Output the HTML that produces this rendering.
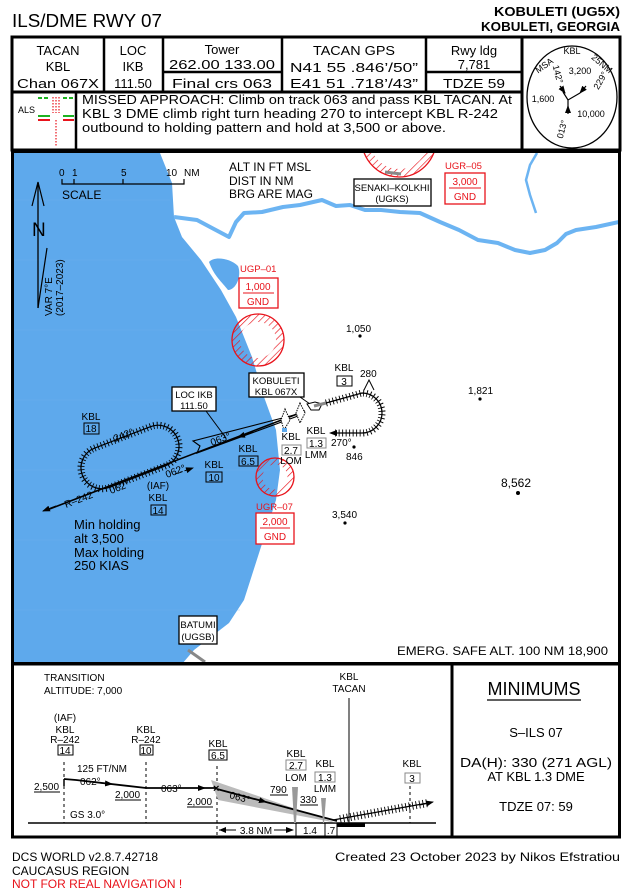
<!DOCTYPE html>
<html><head><meta charset="utf-8">
<style>
html,body{margin:0;padding:0;background:#fff;}
svg{display:block;}
text{font-family:"Liberation Sans",sans-serif;fill:#000;}
.r{fill:#e8131b;}
</style></head><body>
<svg width="628" height="891" viewBox="0 0 628 891" xmlns="http://www.w3.org/2000/svg">
<defs>
<pattern id="hatch" width="5" height="5" patternUnits="userSpaceOnUse" patternTransform="rotate(45)">
<line x1="0" y1="0" x2="0" y2="5" stroke="#e8131b" stroke-width="1.3"/>
</pattern>
<clipPath id="mapclip"><rect x="14" y="153" width="605" height="510"/></clipPath>
<marker id="ah" markerWidth="8" markerHeight="6" refX="7" refY="3" orient="auto" markerUnits="userSpaceOnUse"><path d="M0,0 L8,3 L0,6 z" fill="#000"/></marker>
</defs>

<text x="12" y="27" font-size="18" textLength="150" lengthAdjust="spacingAndGlyphs">ILS/DME RWY 07</text>
<text x="620" y="16" font-size="13" font-weight="bold" text-anchor="end" textLength="126" lengthAdjust="spacingAndGlyphs">KOBULETI (UG5X)</text>
<text x="620" y="31" font-size="13" font-weight="bold" text-anchor="end" textLength="139" lengthAdjust="spacingAndGlyphs">KOBULETI, GEORGIA</text>

<rect x="12" y="37" width="608" height="113" fill="none" stroke="#000" stroke-width="3"/>
<line x1="12" y1="92" x2="522" y2="92" stroke="#000" stroke-width="3"/>
<line x1="522" y1="37" x2="522" y2="150" stroke="#000" stroke-width="3"/>
<g stroke="#000" stroke-width="2.5">
<line x1="104" y1="37" x2="104" y2="92"/>
<line x1="163" y1="37" x2="163" y2="92"/>
<line x1="282" y1="37" x2="282" y2="92"/>
<line x1="426" y1="37" x2="426" y2="92"/>
<line x1="163" y1="72" x2="282" y2="72"/>
<line x1="426" y1="72" x2="522" y2="72"/>
<line x1="76" y1="92" x2="76" y2="150"/>
</g>
<g font-size="13" text-anchor="middle">
<text x="58" y="55">TACAN</text><text x="58" y="71">KBL</text><text x="58" y="88" textLength="82" lengthAdjust="spacingAndGlyphs">Chan 067X</text>
<text x="133" y="55">LOC</text><text x="133" y="71">IKB</text><text x="133" y="88">111.50</text>
<text x="222" y="54">Tower</text><text x="222" y="69" textLength="106" lengthAdjust="spacingAndGlyphs">262.00 133.00</text><text x="222" y="88" textLength="100" lengthAdjust="spacingAndGlyphs">Final crs 063</text>
<text x="354" y="55" textLength="82" lengthAdjust="spacingAndGlyphs">TACAN GPS</text>
<text x="354" y="72" textLength="128" lengthAdjust="spacingAndGlyphs">N41 55 .846’/50”</text>
<text x="354" y="88" textLength="128" lengthAdjust="spacingAndGlyphs">E41 51 .718’/43”</text>
<text x="474" y="55">Rwy ldg</text><text x="474" y="69">7,781</text><text x="474" y="88" textLength="62" lengthAdjust="spacingAndGlyphs">TDZE 59</text>
</g>
<g font-size="12.5">
<text x="82" y="104" textLength="430" lengthAdjust="spacingAndGlyphs">MISSED APPROACH: Climb on track 063 and pass KBL TACAN. At</text>
<text x="82" y="118" textLength="416" lengthAdjust="spacingAndGlyphs">KBL 3 DME climb right turn heading 270 to intercept KBL R-242</text>
<text x="82" y="132" textLength="364" lengthAdjust="spacingAndGlyphs">outbound to holding pattern and hold at 3,500 or above.</text>
</g>
<text x="18" y="113" font-size="9">ALS</text>
<g stroke-width="2">
<line x1="38" y1="98" x2="50" y2="98" stroke="#1db321" stroke-dasharray="4 2"/>
<line x1="63" y1="98" x2="74" y2="98" stroke="#1db321" stroke-dasharray="4 2"/>
<line x1="38" y1="116" x2="50" y2="116" stroke="#1db321"/>
<line x1="63" y1="116" x2="74" y2="116" stroke="#1db321"/>
<line x1="38" y1="120" x2="50" y2="120" stroke="#e8131b"/>
<line x1="63" y1="120" x2="74" y2="120" stroke="#e8131b"/>
</g>
<g stroke="#e8131b" stroke-width="1.2" stroke-dasharray="1.5 1.5">
<line x1="53" y1="97" x2="53" y2="113"/><line x1="59" y1="97" x2="59" y2="113"/>
<line x1="56" y1="97" x2="56" y2="113"/>
<line x1="56" y1="120" x2="56" y2="146"/>
</g>
<ellipse cx="572" cy="97" rx="45" ry="51" fill="none" stroke="#000" stroke-width="1.3"/>
<g font-size="9">
<text x="572" y="54" text-anchor="middle">KBL</text>
<text x="546" y="68" transform="rotate(-35 546 68)" text-anchor="middle">MSA</text>
<text x="600" y="66" transform="rotate(40 600 66)" text-anchor="middle">25NM</text>
<text x="580" y="74" text-anchor="middle">3,200</text>
<text x="555" y="75" transform="rotate(75 555 75)" text-anchor="middle">142°</text>
<text x="603" y="82" transform="rotate(-60 603 82)" text-anchor="middle">229°</text>
<text x="543" y="102" text-anchor="middle">1,600</text>
<text x="591" y="117" text-anchor="middle">10,000</text>
<text x="565" y="130" transform="rotate(-75 565 130)" text-anchor="middle">013°</text>
</g>
<g stroke="#000" stroke-width="1.2" fill="none">
<path d="M563,92 L568,100 L580,93 M568,100 L568,107"/>
<line x1="560" y1="86" x2="565" y2="93" marker-end="url(#ah)"/>
<line x1="586" y1="86" x2="580" y2="93" marker-end="url(#ah)"/>
<line x1="568" y1="114" x2="568" y2="106" marker-end="url(#ah)"/>
</g>

<g clip-path="url(#mapclip)">
<rect x="14" y="153" width="605" height="510" fill="#fff"/>
<path d="M14,153 L160,153 L172,183 L174,217 L182,237 L201,260 L221,290 L236,317 L252,357 L264,397 L276,430 L280,470 L276,500 L260,550 L244,600 L229,623 L194,650 L182,664 L14,664 Z" fill="#5ea9ec"/>
<g stroke="#73b6f2" stroke-width="0.6" opacity="0.6">
<line x1="14" y1="200" x2="170" y2="200"/><line x1="14" y1="260" x2="190" y2="260"/><line x1="14" y1="330" x2="230" y2="330"/><line x1="14" y1="400" x2="260" y2="400"/><line x1="14" y1="470" x2="270" y2="470"/><line x1="14" y1="540" x2="260" y2="540"/><line x1="14" y1="610" x2="240" y2="610"/>
</g>
<path d="M209,262 C214,256 230,258 238,266 C242,276 236,290 228,290 C222,282 214,276 209,262 Z" fill="#5ea9ec"/>
<path d="M174,217 L197,220 L212,228 L229,237 L236,222 L244,213 L262,212 L283,207 L300,205 L322,200 L336,206 L350,205 L365,210 L381,210 L400,212 L420,213 L440,222 L459,230 L478,240 L498,243 L515,250 L530,253 L545,250 L557,243 L566,234 L576,230 L596,227 L619,222" fill="none" stroke="#6cb4f2" stroke-width="4" stroke-linejoin="round"/>
<path d="M537,153 L530,165 L526,180 L530,195 L536,213" fill="none" stroke="#6cb4f2" stroke-width="2.5"/>
<circle cx="258" cy="340" r="22" fill="none" stroke="url(#hatch)" stroke-width="8"/>
<circle cx="258" cy="340" r="26" fill="none" stroke="#e8131b" stroke-width="1.3"/>
<circle cx="275" cy="477" r="16" fill="none" stroke="url(#hatch)" stroke-width="7"/>
<circle cx="275" cy="477" r="19" fill="none" stroke="#e8131b" stroke-width="1.3"/>
<circle cx="399" cy="140" r="33" fill="none" stroke="url(#hatch)" stroke-width="8"/>
<circle cx="399" cy="140" r="37" fill="none" stroke="#e8131b" stroke-width="1.3"/>
<line x1="385" y1="172" x2="401" y2="174" stroke="#888" stroke-width="3"/>
<line x1="188" y1="650" x2="205" y2="662" stroke="#888" stroke-width="3"/>
</g>
<rect x="12.5" y="151.5" width="607" height="512" fill="none" stroke="#000" stroke-width="3"/>

<g font-size="10">
<text x="59" y="176">0</text><text x="72" y="176">1</text><text x="121" y="176">5</text><text x="166" y="176">10</text><text x="184" y="176">NM</text>
</g>
<path d="M62,179 L62,184 L184,184 L184,179 M74,179 L74,184 M123,179 L123,184" fill="none" stroke="#000" stroke-width="1.2"/>
<text x="62" y="199" font-size="12">SCALE</text>
<line x1="38" y1="308" x2="38" y2="185" stroke="#000" stroke-width="1.3"/>
<path d="M32,206 L38,182 L44,206" fill="none" stroke="#000" stroke-width="1.2"/>
<text x="32" y="236" font-size="19">N</text>
<line x1="38" y1="308" x2="47" y2="248" stroke="#000" stroke-width="1.2"/>
<g font-size="10">
<text x="52" y="316" transform="rotate(-90 52 316)">VAR 7°E</text>
<text x="63" y="316" transform="rotate(-90 63 316)">(2017–2023)</text>
</g>
<g font-size="12">
<text x="229" y="171">ALT IN FT MSL</text>
<text x="229" y="185">DIST IN NM</text>
<text x="229" y="198">BRG ARE MAG</text>
</g>
<rect x="354" y="179" width="77" height="27" fill="#fff" stroke="#000" stroke-width="1.3"/>
<text x="392" y="191" font-size="9.5" text-anchor="middle">SENAKI–KOLKHI</text>
<text x="392" y="202" font-size="9.5" text-anchor="middle">(UGKS)</text>
<text x="445" y="169" font-size="9.5" class="r">UGR–05</text>
<rect x="445" y="173" width="40" height="31" fill="#fff" stroke="#e8131b" stroke-width="1.3"/>
<text x="465" y="185" font-size="10" class="r" text-anchor="middle">3,000</text>
<line x1="449" y1="188" x2="481" y2="188" stroke="#e8131b"/>
<text x="465" y="200" font-size="10" class="r" text-anchor="middle">GND</text>
<text x="240" y="272" font-size="9.5" class="r">UGP–01</text>
<rect x="239" y="278" width="39" height="30" fill="#fff" stroke="#e8131b" stroke-width="1.3"/>
<text x="258" y="290" font-size="10" class="r" text-anchor="middle">1,000</text>
<line x1="243" y1="293" x2="274" y2="293" stroke="#e8131b"/>
<text x="258" y="305" font-size="10" class="r" text-anchor="middle">GND</text>
<text x="256" y="510" font-size="9.5" class="r">UGR–07</text>
<rect x="256" y="513" width="38" height="31" fill="#fff" stroke="#e8131b" stroke-width="1.3"/>
<text x="275" y="525" font-size="10" class="r" text-anchor="middle">2,000</text>
<line x1="260" y1="528" x2="290" y2="528" stroke="#e8131b"/>
<text x="275" y="540" font-size="10" class="r" text-anchor="middle">GND</text>
<g font-size="10">
<text x="346" y="332">1,050</text><circle cx="360" cy="336" r="1.6"/>
<text x="468" y="394">1,821</text><circle cx="480" cy="399" r="1.6"/>
<text x="501" y="487" font-size="12">8,562</text><circle cx="518" cy="493" r="2"/>
<text x="332" y="518">3,540</text><circle cx="345" cy="523" r="1.6"/>
<text x="346" y="460">846</text><circle cx="354" cy="447" r="1.6"/>
</g>
<rect x="249" y="373" width="55" height="24" fill="#fff" stroke="#000" stroke-width="1.3"/>
<text x="276" y="384" font-size="9.5" text-anchor="middle">KOBULETI</text>
<text x="276" y="395" font-size="9.5" text-anchor="middle">KBL 067X</text>
<line x1="300" y1="397" x2="310" y2="404" stroke="#000" stroke-width="1"/>
<rect x="172" y="387" width="44" height="24" fill="#fff" stroke="#000" stroke-width="1.3"/>
<text x="194" y="398" font-size="9.5" text-anchor="middle">LOC IKB</text>
<text x="194" y="409" font-size="9.5" text-anchor="middle">111.50</text>
<line x1="206" y1="411" x2="226" y2="438" stroke="#000" stroke-width="1"/>
<path d="M298,414 L193,441 L200,446 L197,453 L298,416" fill="none" stroke="#000" stroke-width="1.1"/>
<line x1="47" y1="510" x2="305" y2="411" stroke="#000" stroke-width="1.6"/>
<line x1="56" y1="506" x2="43" y2="511" stroke="#000" stroke-width="1.2" marker-end="url(#ah)"/>
<line x1="253" y1="432" x2="238" y2="437" stroke="#000" stroke-width="1.2" marker-end="url(#ah)"/>
<text x="212" y="446" font-size="10" transform="rotate(-21 212 446)">063°</text>
<line x1="175" y1="474" x2="193" y2="468" stroke="#000" stroke-width="1" stroke-dasharray="3 2" marker-end="url(#ah)"/>
<text x="167" y="478" font-size="10" transform="rotate(-21 167 478)">062°</text>
<g fill="#fff" stroke="#000" stroke-width="1">
<path d="M285,409 L290,420 L284,430 L281,420 Z" stroke-dasharray="1.5 1"/>
<path d="M300,403 L305,413 L300,423 L296,413 Z" stroke-dasharray="1.5 1"/>
</g>
<rect x="282" y="428" width="5" height="4" fill="#5ea9ec"/>
<path d="M307,404 L315,402 L322,404 L319,410 L311,410 Z" fill="#fff" stroke="#000" stroke-width="1"/>
<line x1="314" y1="406" x2="326" y2="403" stroke="#888" stroke-width="3"/>
<g transform="translate(130,457) rotate(-21)" fill="none" stroke="#000">
<path d="M-30,-21 L30,-21 A21,21 0 0 1 30,21 L-30,21 A21,21 0 0 1 -30,-21" stroke-width="1.2"/>
<path d="M-30,-21 L30,-21 A21,21 0 0 1 30,21 L-30,21 A21,21 0 0 1 -30,-21" stroke-width="7" stroke-dasharray="0.9 2.6"/>
</g>
<text x="115" y="442" font-size="10" transform="rotate(-21 115 442)">242°</text>
<text x="111" y="494" font-size="10" transform="rotate(-21 111 494)">062°</text>
<text x="66" y="508" font-size="10" transform="rotate(-21 66 508)">R–242</text>
<g fill="none" stroke="#000">
<path d="M326,403 L362,393 A20,20 0 0 1 362,433 L334,433" stroke-width="1.2"/>
<path d="M326,403 L362,393 A20,20 0 0 1 362,433 L334,433" stroke-width="7" stroke-dasharray="0.9 2.6"/>
</g>
<line x1="340" y1="433" x2="330" y2="433" stroke="#000" marker-end="url(#ah)"/>
<path d="M364,390 L369,380 L374,390" fill="none" stroke="#000" stroke-width="1"/>
<text x="360" y="377" font-size="10">280</text>
<text x="331" y="446" font-size="10">270°</text>
<g font-size="10" text-anchor="middle">
<text x="91" y="420">KBL</text><rect x="84" y="423" width="15" height="11" fill="none" stroke="#000"/><text x="91" y="432">18</text>
<text x="344" y="371">KBL</text><rect x="337" y="376" width="15" height="10" fill="none" stroke="#000"/><text x="344" y="385">3</text>
<text x="248" y="452">KBL</text><rect x="239" y="456" width="19" height="10" fill="none" stroke="#000"/><text x="248" y="465">6.5</text>
<text x="214" y="468">KBL</text><rect x="206" y="472" width="16" height="10" fill="none" stroke="#000"/><text x="214" y="481">10</text>
<text x="158" y="489">(IAF)</text><text x="158" y="501">KBL</text><rect x="151" y="505" width="15" height="10" fill="none" stroke="#000"/><text x="158" y="514">14</text>
<text x="291" y="440">KBL</text><rect x="282" y="445" width="19" height="10" fill="none" stroke="#888"/><text x="291" y="454">2.7</text><text x="291" y="464">LOM</text>
<text x="316" y="434">KBL</text><rect x="307" y="438" width="19" height="10" fill="none" stroke="#888"/><text x="316" y="447">1.3</text><text x="316" y="458">LMM</text>
</g>
<g font-size="13">
<text x="74" y="529">Min holding</text>
<text x="74" y="543">alt 3,500</text>
<text x="74" y="557">Max holding</text>
<text x="74" y="570">250 KIAS</text>
</g>
<rect x="179" y="616" width="38" height="28" fill="#fff" stroke="#000" stroke-width="1.3"/>
<text x="198" y="628" font-size="9.5" text-anchor="middle">BATUMI</text>
<text x="198" y="640" font-size="9.5" text-anchor="middle">(UGSB)</text>
<text x="608" y="655" font-size="12" text-anchor="end" textLength="211" lengthAdjust="spacingAndGlyphs">EMERG. SAFE ALT. 100 NM 18,900</text>

<rect x="12.5" y="664" width="607" height="173" fill="none" stroke="#000" stroke-width="3"/>
<line x1="452" y1="664" x2="452" y2="837" stroke="#000" stroke-width="3"/>
<g font-size="10">
<text x="44" y="681">TRANSITION</text>
<text x="44" y="694">ALTITUDE: 7,000</text>
</g>
<line x1="28" y1="823" x2="436" y2="823" stroke="#000" stroke-width="1.5"/>
<g stroke="#000" stroke-width="1" stroke-dasharray="3 3">
<line x1="64" y1="762" x2="64" y2="823"/><line x1="146" y1="762" x2="146" y2="823"/>
<line x1="217" y1="766" x2="217" y2="837"/><line x1="410" y1="786" x2="410" y2="823"/>
</g>
<line x1="349" y1="698" x2="349" y2="823" stroke="#000" stroke-width="1"/>
<g font-size="10" text-anchor="middle">
<text x="65" y="721">(IAF)</text><text x="65" y="733">KBL</text><text x="65" y="743">R–242</text>
<rect x="58" y="745" width="15" height="10" fill="none" stroke="#000"/><text x="65" y="754">14</text>
<text x="146" y="733">KBL</text><text x="146" y="743">R–242</text>
<rect x="140" y="745" width="13" height="10" fill="none" stroke="#000"/><text x="146" y="754">10</text>
<text x="218" y="747">KBL</text><rect x="209" y="750" width="18" height="10" fill="none" stroke="#000"/><text x="218" y="759">6.5</text>
<text x="296" y="757">KBL</text><rect x="286" y="760" width="20" height="10" fill="none" stroke="#888"/><text x="296" y="769">2.7</text><text x="296" y="781">LOM</text>
<text x="325" y="767">KBL</text><rect x="315" y="772" width="20" height="10" fill="none" stroke="#888"/><text x="325" y="781">1.3</text><text x="325" y="792">LMM</text>
<text x="349" y="680">KBL</text><text x="349" y="692">TACAN</text>
<text x="412" y="767">KBL</text><rect x="405" y="773" width="15" height="10" fill="none" stroke="#888"/><text x="412" y="782">3</text>
</g>
<path d="M211,780 L218,800 L337,823 Z" fill="#bbb"/>
<polyline points="64,779 76,780 146,788 217,788" fill="none" stroke="#000" stroke-width="1.8"/>
<line x1="217" y1="789" x2="337" y2="821" stroke="#000" stroke-width="1.8"/>
<line x1="64" y1="779" x2="64" y2="786" stroke="#000" stroke-width="1.5"/>
<line x1="100" y1="783" x2="112" y2="784" stroke="#000" marker-end="url(#ah)"/>
<line x1="190" y1="788" x2="205" y2="788" stroke="#000" marker-end="url(#ah)"/>
<line x1="255" y1="799" x2="266" y2="802" stroke="#000" marker-end="url(#ah)"/>
<text x="213" y="792" font-size="11" font-weight="bold">×</text>
<path d="M292,787 L298,787 L296,823 L294,823 Z" fill="#999"/>
<path d="M321,798 L326,798 L324,823 L323,823 Z" fill="#999"/>
<g font-size="10">
<text x="77" y="772">125 FT/NM</text>
<text x="80" y="785">062°</text>
<text x="161" y="792">063°</text>
<text x="229" y="798" transform="rotate(15 229 798)">063°</text>
<text x="34" y="790">2,500</text><line x1="34" y1="792" x2="60" y2="792" stroke="#000"/>
<text x="115" y="798">2,000</text><line x1="115" y1="800" x2="141" y2="800" stroke="#000"/>
<text x="187" y="805">2,000</text><line x1="187" y1="807" x2="213" y2="807" stroke="#000"/>
<text x="270" y="793">790</text><line x1="270" y1="795" x2="288" y2="795" stroke="#000"/>
<text x="300" y="803">330</text><line x1="300" y1="805" x2="318" y2="805" stroke="#000"/>
<text x="70" y="818">GS 3.0°</text>
</g>
<path d="M333,820 L428,803" fill="none" stroke="#000" stroke-width="1.2"/>
<path d="M340,819 L428,803" fill="none" stroke="#000" stroke-width="8" stroke-dasharray="0.9 2.6"/>
<line x1="420" y1="805" x2="433" y2="802" stroke="#000" marker-end="url(#ah)"/>
<rect x="337" y="823" width="28" height="4" fill="#000"/>
<g stroke="#000" stroke-width="1">
<line x1="296" y1="823" x2="296" y2="837"/><line x1="325" y1="823" x2="325" y2="837"/><line x1="337" y1="823" x2="337" y2="837"/>
<line x1="219" y1="830" x2="236" y2="830"/>
<line x1="274" y1="830" x2="293" y2="830" marker-end="url(#ah)"/>
</g>
<path d="M219,830 L226,827 L226,833 Z" fill="#000"/>
<g font-size="10" text-anchor="middle">
<text x="256" y="834">3.8 NM</text><text x="310" y="834">1.4</text><text x="331" y="834">.7</text>
</g>
<text x="534" y="695" font-size="18" text-anchor="middle">MINIMUMS</text>
<line x1="487" y1="700" x2="581" y2="700" stroke="#000" stroke-width="1.3"/>
<g font-size="13" text-anchor="middle">
<text x="536" y="737">S–ILS 07</text>
<text x="536" y="767" textLength="152" lengthAdjust="spacingAndGlyphs">DA(H): 330 (271 AGL)</text>
<text x="536" y="781">AT KBL 1.3 DME</text>
<text x="536" y="811">TDZE 07: 59</text>
</g>
<g font-size="12">
<text x="12" y="861">DCS WORLD v2.8.7.42718</text>
<text x="12" y="875">CAUCASUS REGION</text>
<text x="12" y="888" class="r">NOT FOR REAL NAVIGATION !</text>
<text x="620" y="861" text-anchor="end" textLength="285" lengthAdjust="spacingAndGlyphs">Created 23 October 2023 by Nikos Efstratiou</text>
</g>
</svg>
</body></html>
